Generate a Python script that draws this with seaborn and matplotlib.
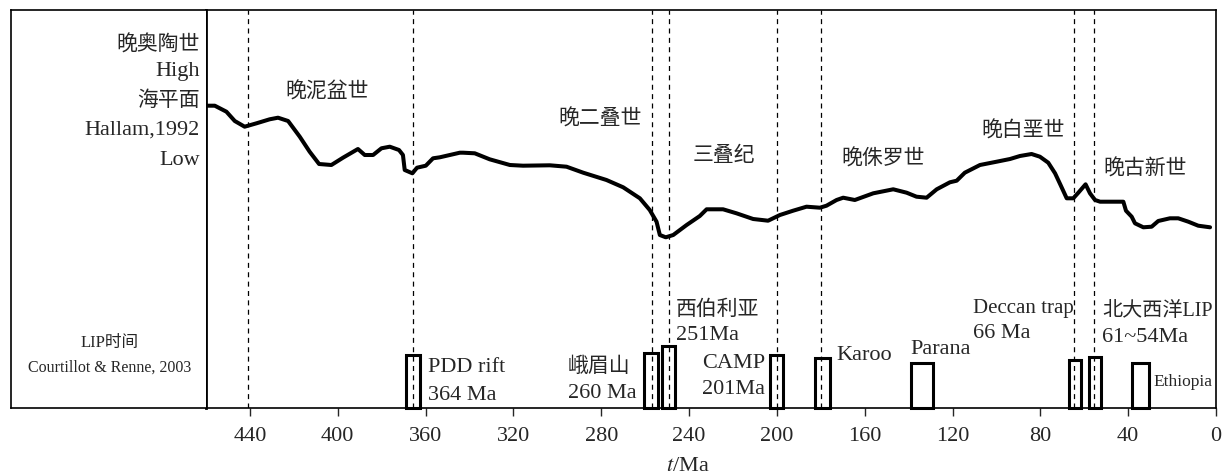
import matplotlib
matplotlib.use("Agg")
import matplotlib.pyplot as plt
import seaborn as sns
import pandas as pd

# sea level curve (Hallam, 1992), relative units, age in Ma
age = [459.8, 456.0, 450.7, 446.9, 442.4, 437.0, 431.0, 427.2, 422.6, 417.3,
       412.8, 408.5, 402.9, 397.6, 390.8, 387.7, 383.9, 380.1, 376.3, 372.1,
       370.3, 369.5, 366.0, 363.9, 359.9, 356.6, 353.5, 344.4, 342.9, 337.6,
       330.8, 321.6, 315.6, 303.4, 295.8, 288.2, 277.6, 270.0, 262.4, 257.9,
       254.8, 253.3, 250.6, 247.2, 241.1, 235.1, 232.0, 224.5, 218.4, 210.8,
       204.0, 198.6, 192.6, 186.5, 180.4, 177.4, 172.8, 169.8, 164.5, 156.1,
       147.0, 140.9, 136.4, 131.8, 127.2, 121.2, 118.1, 114.4, 107.5, 99.9,
       93.8, 89.3, 84.0, 80.2, 76.4, 73.3, 70.8, 68.0, 65.0, 62.7,
       59.4, 57.4, 55.1, 52.8, 42.2, 41.0, 38.4, 36.9, 33.1, 29.3,
       26.3, 21.0, 17.2, 12.6, 8.1, 2.7]
sea_level = [302.3, 302.3, 296.3, 287.0, 281.3, 284.7, 288.7, 290.3, 287.0, 271.3,
             256.3, 244.0, 243.0, 250.3, 259.0, 253.0, 253.0, 259.7, 261.3, 258.0,
             253.0, 238.0, 234.7, 240.3, 242.3, 249.7, 250.7, 255.3, 255.3, 254.7,
             248.7, 243.0, 242.3, 242.7, 241.3, 235.3, 228.0, 220.7, 209.7, 198.0,
             186.3, 173.0, 170.7, 173.0, 183.0, 192.0, 198.7, 198.7, 194.7, 189.0,
             187.3, 193.0, 197.3, 201.3, 200.3, 202.3, 208.0, 210.3, 208.0, 214.7,
             218.7, 215.3, 211.3, 210.3, 218.7, 225.7, 227.3, 235.3, 243.0, 246.3,
             249.0, 252.0, 254.0, 251.3, 245.3, 234.7, 223.0, 209.7, 209.7, 215.3,
             223.7, 214.7, 208.0, 206.3, 206.3, 197.3, 191.3, 184.7, 180.7, 181.3,
             187.0, 189.7, 189.7, 186.3, 182.3, 180.7]

# boundaries (dashed lines), Ma
boundaries = [441, 365.5, 257, 249, 200, 180, 64.5, 55.5]

# LIP boxes: older age, younger age, box height
lip_old = [368.7, 260.4, 252.4, 203.2, 182.5, 139.0, 67.0, 57.9, 38.4]
lip_young = [362.4, 254.0, 246.3, 197.4, 175.9, 128.8, 61.5, 52.5, 30.4]
lip_height = [53, 55, 62, 53, 50, 45, 48, 51, 45]

# period labels
periods = ["晚泥盆世", "晚二叠世", "三叠纪", "晚侏罗世", "晚白垩世", "晚古新世"]
period_age = [405.0, 280.6, 224.1, 151.7, 87.9, 32.3]
period_y = [315, 288, 252, 248, 276, 238]

xticks = [440, 400, 360, 320, 280, 240, 200, 160, 120, 80, 40, 0]

sns.set_style("white")
fam = ["Liberation Serif", "Noto Sans CJK SC"]
plt.rcParams["font.family"] = fam
plt.rcParams["mathtext.fontset"] = "stix"

W, H = 1223, 475
fig = plt.figure(figsize=(W / 100, H / 100), dpi=100)
ax = fig.add_axes([206 / W, 1 - 408 / H, 1010 / W, 398 / H])
axl = fig.add_axes([11 / W, 1 - 408 / H, 195 / W, 398 / H])

df = pd.DataFrame({"age": age, "sea": sea_level})
sns.lineplot(data=df, x="age", y="sea", ax=ax, color="black", lw=2.9,
             estimator=None, sort=False)

for b in boundaries:
    ax.axvline(b, color="black", lw=0.9, ls=(0, (4, 3.5)))

centers = [(o + y) / 2 for o, y in zip(lip_old, lip_young)]
widths = [o - y for o, y in zip(lip_old, lip_young)]
ax.bar(centers, lip_height, width=widths, bottom=0, fill=False,
       edgecolor="black", linewidth=2.2, clip_on=False, zorder=3)

ax.set_xlim(460, 0)
ax.set_ylim(0, 398)
ax.set_xticks(xticks)
ax.set_yticks([])
ax.set_xlabel("")
ax.set_ylabel("")
ax.tick_params(axis="x", direction="out", length=6, width=1.0, labelsize=16,
               pad=8, bottom=True)
for s in ax.spines.values():
    s.set_visible(True)
    s.set_color("black")
    s.set_linewidth(1.2)
ax.spines["left"].set_linewidth(2.0)

for t, a, y in zip(periods, period_age, period_y):
    ax.text(a, y, t, fontsize=15, ha="center", va="center")

lip_labels = [
    ("PDD rift", 359.0, 40, 16), ("364 Ma", 359.0, 13, 16),
    ("峨眉山", 295.2, 41, 15), ("260 Ma", 295.2, 15, 16),
    ("西伯利亚", 246.0, 98, 15), ("251Ma", 246.0, 73, 16),
    ("CAMP", 234.2, 45, 16), ("201Ma", 234.2, 18, 16),
    ("Karoo", 173.1, 52, 16), ("Parana", 139.4, 58, 16),
    ("Deccan trap", 110.7, 100, 15), ("66 Ma", 110.7, 75, 16),
    ("北大西洋LIP", 51.9, 96, 14.5), ("61~54Ma", 51.9, 71, 16),
    ("Ethiopia", 28.7, 26, 12.5),
]
for t, a, y, fs in lip_labels:
    ax.text(a, y, t, fontsize=fs, ha="left", va="center")

ax.text(0.477, -0.148, r"$t$/Ma", transform=ax.transAxes, fontsize=16,
        ha="center", va="center")

# left label panel
axl.set_xticks([])
axl.set_yticks([])
for k, s in axl.spines.items():
    s.set_color("black")
    s.set_linewidth(1.2)
axl.spines["right"].set_visible(False)
left_text = [("晚奥陶世", 0.912, 15), ("High", 0.845, 16), ("海平面", 0.771, 15),
             ("Hallam,1992", 0.699, 16), ("Low", 0.621, 16)]
for t, y, fs in left_text:
    axl.text(0.969, y, t, fontsize=fs, ha="right", va="center",
             transform=axl.transAxes)
axl.text(0.508, 0.163, "LIP时间", fontsize=12, ha="center", va="center",
         transform=axl.transAxes)
axl.text(0.508, 0.1005, "Courtillot & Renne, 2003", fontsize=11.5,
         ha="center", va="center", transform=axl.transAxes)

fig.savefig("out.png", dpi=100)
